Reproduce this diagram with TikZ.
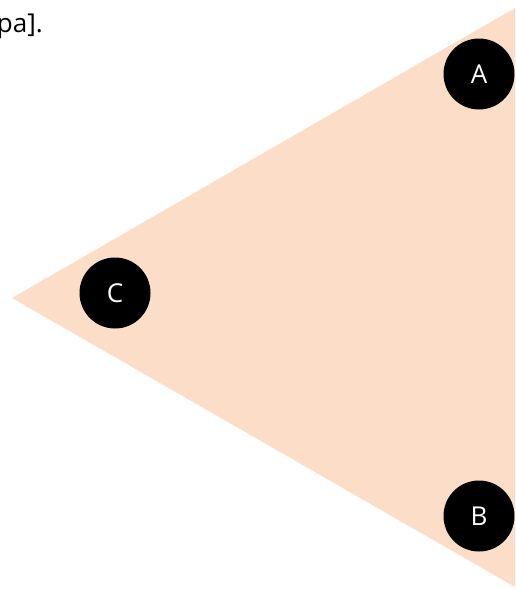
\documentclass[tikz,border=0pt]{standalone}
\usepackage{fontspec}
\setmainfont{Open Sans}
\definecolor{peach}{RGB}{252,221,199}
\begin{document}
\begin{tikzpicture}[x=1pt,y=-1pt,
  vtx/.style={circle,fill=black,text=white,minimum size=71pt,inner sep=0pt,font=\fontsize{26}{30}\selectfont}]
\useasboundingbox (0,0) rectangle (515,589);
\fill[peach] (515,8) -- (12,298) -- (515,587) -- cycle;
\node[anchor=base east,inner sep=0pt,font=\fontsize{26}{30}\selectfont] (txt) at (43,32) {pa].};
\node[vtx] (A) at (479,74) {A};
\node[vtx] (C) at (115,293) {C};
\node[vtx] (B) at (479,516) {B};
\end{tikzpicture}
\end{document}
